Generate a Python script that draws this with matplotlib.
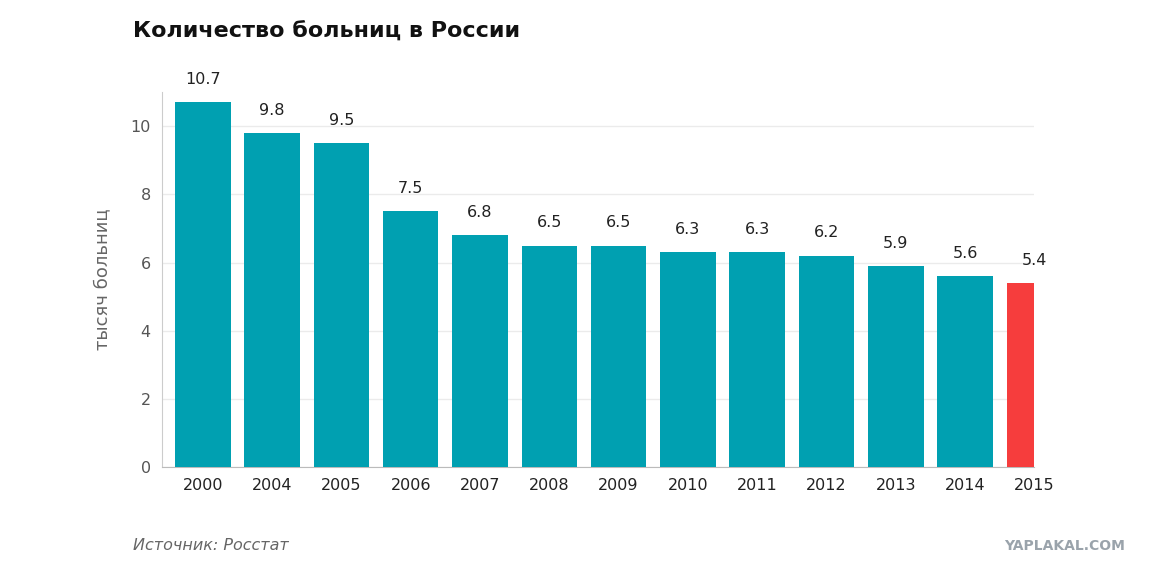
import matplotlib
matplotlib.use("Agg")
import matplotlib.pyplot as plt

years = ["2000","2004","2005","2006","2007","2008","2009","2010","2011","2012","2013","2014","2015"]
values = [10.7,9.8,9.5,7.5,6.8,6.5,6.5,6.3,6.3,6.2,5.9,5.6,5.4]
labels = ["10.7","9.8","9.5","7.5","6.8","6.5","6.5","6.3","6.3","6.2","5.9","5.6","5.4"]
yticks = [0,2,4,6,8,10]

fig = plt.figure(figsize=(11.51,5.76), dpi=100)
ax = fig.add_axes([0.1407,0.189,0.758,0.651])
colors = ["#00a0b1"]*(len(values)-1) + ["#f63d3d"]
x = list(range(len(values)))
ax.bar(x, values, width=0.8, color=colors, zorder=3)
for xi, v, l in zip(x, values, labels):
    ax.text(xi, v+0.45, l, ha="center", va="bottom", fontsize=11.5, color="#222222")
ax.set_xlim(-0.59, 11.6)
ax.set_ylim(0, 11)
ax.set_xticks(x)
ax.set_xticklabels(years, fontsize=11.5, color="#222222")
ax.set_yticks(yticks)
ax.set_yticklabels([str(t) for t in yticks], fontsize=11.5, color="#555555")
ax.yaxis.grid(True, color="#ebebeb", lw=1, zorder=0)
for s in ["top","right"]:
    ax.spines[s].set_visible(False)
ax.spines["left"].set_color("#cccccc")
ax.spines["bottom"].set_color("#bbbbbb")
ax.tick_params(axis="both", length=0, pad=8)
ax.set_ylabel("тысяч больниц", fontsize=13, color="#666666", labelpad=14)
fig.text(133/1151, 1-32/576, "Количество больниц в России", fontsize=16, fontweight="bold", va="center", color="#111111")
fig.text(133/1151, 1-545/576, "Источник: Росстат", fontsize=11.5, style="italic", va="center", color="#666666")
fig.text(1125/1151, 1-546/576, "YAPLAKAL.COM", fontsize=10, fontweight="bold", ha="right", va="center", color="#9aa3ab")
fig.savefig("out.png", dpi=100)
